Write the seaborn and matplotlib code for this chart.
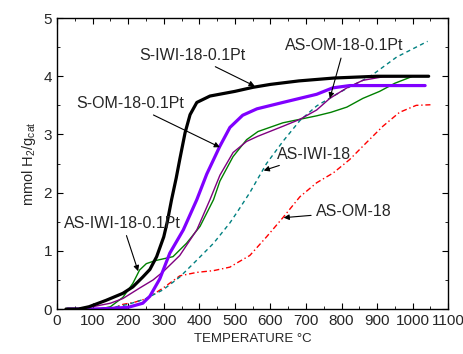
import numpy as np
import pandas as pd
import matplotlib
matplotlib.use("Agg")
import matplotlib.pyplot as plt
from matplotlib.ticker import MultipleLocator
import seaborn as sns

sns.set_style("ticks")
plt.rcParams["font.family"] = ["Liberation Sans", "DejaVu Sans"]
plt.rcParams["mathtext.fontset"] = "custom"
plt.rcParams["mathtext.rm"] = "Liberation Sans"
plt.rcParams["mathtext.it"] = "Liberation Sans"

# data (temperature in degC, uptake in mmol H2/g_cat)
s_iwi_pt_t = [25, 60, 90, 138, 185, 213, 241, 261, 280, 300, 310, 322, 335, 345, 360, 374, 393, 430, 500, 551, 600, 680, 780, 900, 1045]
s_iwi_pt_v = [0, 0.0, 0.04, 0.15, 0.27, 0.38, 0.55, 0.68, 0.9, 1.24, 1.5, 1.88, 2.25, 2.57, 3.03, 3.34, 3.55, 3.66, 3.74, 3.81, 3.86, 3.92, 3.97, 4.0, 4.0]

s_om_pt_t = [30, 100, 150, 200, 241, 261, 289, 317, 355, 393, 421, 458, 486, 522, 562, 635, 730, 775, 823, 900, 1035]
s_om_pt_v = [0, 0.0, 0.01, 0.03, 0.1, 0.22, 0.52, 0.96, 1.36, 1.88, 2.32, 2.8, 3.12, 3.33, 3.44, 3.55, 3.69, 3.8, 3.84, 3.84, 3.84]

as_om_pt_t = [60, 100, 150, 185, 232, 270, 298, 345, 393, 430, 458, 495, 533, 565, 635, 683, 730, 767, 815, 860, 916, 1000]
as_om_pt_v = [0, 0.04, 0.1, 0.18, 0.36, 0.5, 0.64, 0.92, 1.36, 1.88, 2.3, 2.69, 2.88, 2.97, 3.14, 3.26, 3.42, 3.62, 3.8, 3.93, 3.99, 4.0]

as_iwi_pt_t = [120, 150, 185, 213, 232, 251, 275, 326, 364, 402, 440, 458, 495, 533, 565, 635, 730, 770, 815, 860, 907, 950, 992, 1000]
as_iwi_pt_v = [0, 0.04, 0.2, 0.44, 0.67, 0.78, 0.83, 0.9, 1.13, 1.42, 1.88, 2.2, 2.62, 2.91, 3.05, 3.2, 3.32, 3.38, 3.47, 3.62, 3.74, 3.88, 3.98, 4.0]

as_iwi_t = [100, 150, 200, 250, 298, 345, 393, 440, 486, 508, 542, 589, 635, 683, 730, 777, 823, 860, 888, 955, 1042]
as_iwi_v = [0, 0.02, 0.08, 0.18, 0.33, 0.55, 0.84, 1.13, 1.48, 1.68, 2.0, 2.5, 2.88, 3.24, 3.49, 3.66, 3.82, 3.93, 4.03, 4.33, 4.6]

as_om_t = [150, 185, 220, 252, 298, 345, 393, 440, 486, 508, 542, 589, 635, 683, 730, 777, 823, 870, 916, 963, 1010, 1050]
as_om_v = [0, 0.08, 0.12, 0.18, 0.36, 0.57, 0.63, 0.66, 0.72, 0.8, 0.92, 1.24, 1.57, 1.93, 2.17, 2.34, 2.57, 2.86, 3.14, 3.38, 3.5, 3.51]

fig, ax = plt.subplots(figsize=(4.64, 3.54), dpi=100)
fig.subplots_adjust(left=0.123, right=0.966, bottom=0.127, top=0.949)

sns.lineplot(x=as_om_t, y=as_om_v, color="#ff0000", lw=1, linestyle=(0, (4, 2, 1, 2)), sort=False, ax=ax)
sns.lineplot(x=as_iwi_t, y=as_iwi_v, color="#008080", lw=1, linestyle=(0, (3, 2.5)), sort=False, ax=ax)
sns.lineplot(x=as_iwi_pt_t, y=as_iwi_pt_v, color="#008000", lw=1, sort=False, ax=ax)
sns.lineplot(x=as_om_pt_t, y=as_om_pt_v, color="#800080", lw=1, sort=False, ax=ax)
sns.lineplot(x=s_om_pt_t, y=s_om_pt_v, color="#8000ff", lw=2.3, sort=False, ax=ax)
sns.lineplot(x=s_iwi_pt_t, y=s_iwi_pt_v, color="black", lw=2.3, sort=False, ax=ax)

arrow = dict(arrowstyle="-|>", color="black", lw=0.8, mutation_scale=8, shrinkA=1, shrinkB=0)
labels = [
    ("S-IWI-18-0.1Pt", (556, 3.83), (380, 4.36)),
    ("S-OM-18-0.1Pt", (458, 2.78), (205, 3.53)),
    ("AS-OM-18-0.1Pt", (767, 3.62), (808, 4.52)),
    ("AS-IWI-18", (581, 2.38), (722, 2.66)),
    ("AS-IWI-18-0.1Pt", (228, 0.65), (184, 1.47)),
    ("AS-OM-18", (637, 1.57), (834, 1.67)),
]
for text, xy, xytext in labels:
    ax.annotate(text, xy=xy, xytext=xytext, ha="center", va="center",
                fontsize=11.5, arrowprops=arrow)

ax.set_xlim(0, 1100)
ax.set_ylim(0, 5)
ax.xaxis.set_major_locator(MultipleLocator(100))
ax.xaxis.set_minor_locator(MultipleLocator(50))
ax.yaxis.set_major_locator(MultipleLocator(1))
ax.yaxis.set_minor_locator(MultipleLocator(0.5))
ax.tick_params(which="both", direction="in", top=True, right=True, labelsize=11, color="black")
ax.tick_params(which="major", length=4)
ax.tick_params(which="minor", length=2.5)
for s in ax.spines.values():
    s.set_color("black")
    s.set_linewidth(1)

ax.set_xlabel("TEMPERATURE °C", fontsize=9.5)
ax.set_ylabel("mmol H$_2$/g$_{cat}$", fontsize=10.5)

fig.savefig("out.png", dpi=100)
